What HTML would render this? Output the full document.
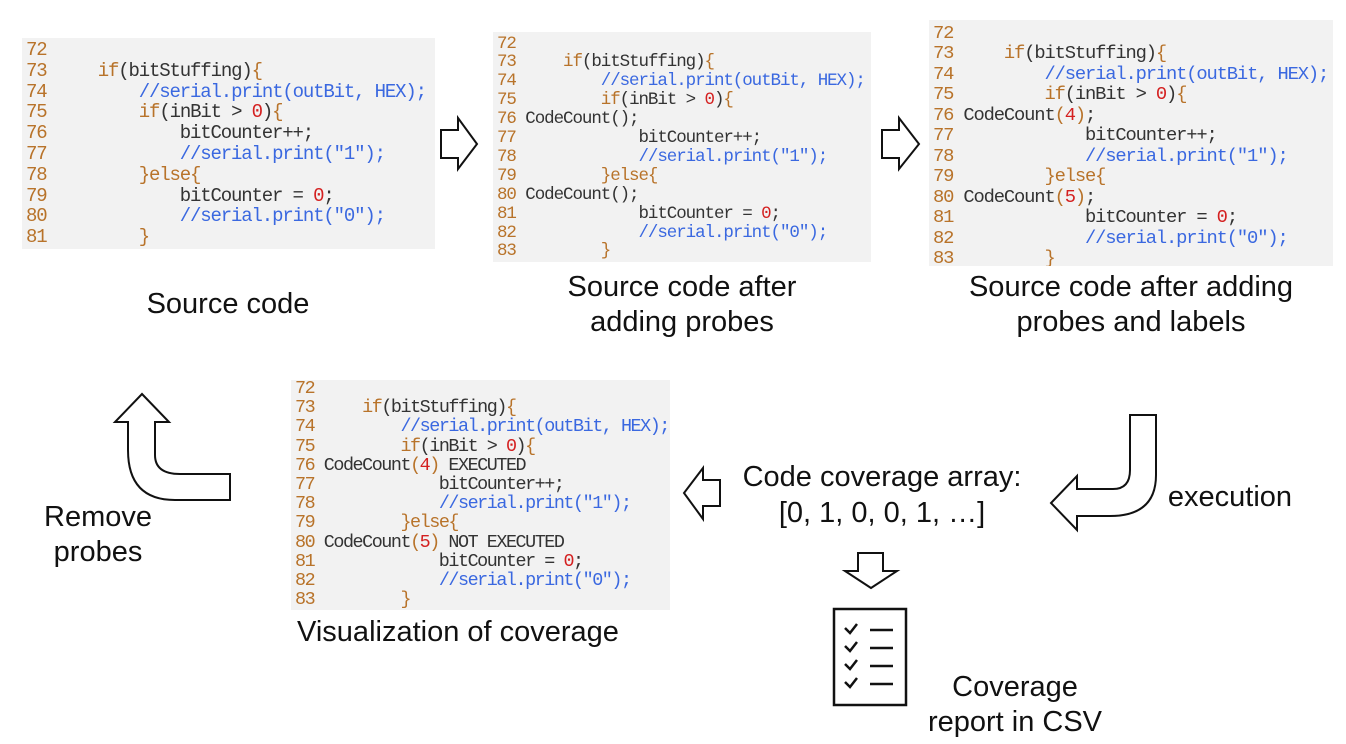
<!DOCTYPE html>
<html><head><meta charset="utf-8"><style>
html,body{margin:0;padding:0;background:#fff;width:1346px;height:744px;overflow:hidden;position:relative}
.cb{position:absolute;background:#f2f2f2;overflow:hidden}
.cb pre{margin:0;position:absolute;left:4px;font-family:"Liberation Mono",monospace;color:#333;white-space:pre}
.n{color:#b8732a}.k{color:#b8732a}.c{color:#3a68e0}.r{color:#d42020}
.t{position:absolute;font-family:"Liberation Sans",Arial,sans-serif;font-size:29px;color:#111;text-align:center;line-height:35px;white-space:nowrap}
svg{position:absolute;left:0;top:0}
</style></head><body>

<div class="cb" style="left:22px;top:38px;width:413px;height:211px">
<pre style="top:2px;font-size:19px;letter-spacing:-1.15px;line-height:20.8px"><span class="n">72</span>
<span class="n">73</span>     <span class="k">if</span>(bitStuffing)<span class="k">{</span>
<span class="n">74</span>         <span class="c">//serial.print(outBit, HEX);</span>
<span class="n">75</span>         <span class="k">if</span>(inBit &gt; <span class="r">0</span>)<span class="k">{</span>
<span class="n">76</span>             bitCounter++;
<span class="n">77</span>             <span class="c">//serial.print(″1″);</span>
<span class="n">78</span>         <span class="k">}else{</span>
<span class="n">79</span>             bitCounter = <span class="r">0</span>;
<span class="n">80</span>             <span class="c">//serial.print(″0″);</span>
<span class="n">81</span>         <span class="k">}</span></pre></div>

<div class="cb" style="left:493px;top:32px;width:378px;height:230px">
<pre style="top:2.5px;font-size:17.5px;letter-spacing:-1.07px;line-height:18.9px"><span class="n">72</span>
<span class="n">73</span>     <span class="k">if</span>(bitStuffing)<span class="k">{</span>
<span class="n">74</span>         <span class="c">//serial.print(outBit, HEX);</span>
<span class="n">75</span>         <span class="k">if</span>(inBit &gt; <span class="r">0</span>)<span class="k">{</span>
<span class="n">76</span> CodeCount();
<span class="n">77</span>             bitCounter++;
<span class="n">78</span>             <span class="c">//serial.print(″1″);</span>
<span class="n">79</span>         <span class="k">}else{</span>
<span class="n">80</span> CodeCount();
<span class="n">81</span>             bitCounter = <span class="r">0</span>;
<span class="n">82</span>             <span class="c">//serial.print(″0″);</span>
<span class="n">83</span>         <span class="k">}</span></pre></div>

<div class="cb" style="left:929px;top:20px;width:404px;height:246px">
<pre style="top:3px;font-size:18.8px;letter-spacing:-1.14px;line-height:20.45px"><span class="n">72</span>
<span class="n">73</span>     <span class="k">if</span>(bitStuffing)<span class="k">{</span>
<span class="n">74</span>         <span class="c">//serial.print(outBit, HEX);</span>
<span class="n">75</span>         <span class="k">if</span>(inBit &gt; <span class="r">0</span>)<span class="k">{</span>
<span class="n">76</span> CodeCount<span class="k">(</span><span class="r">4</span><span class="k">)</span>;
<span class="n">77</span>             bitCounter++;
<span class="n">78</span>             <span class="c">//serial.print(″1″);</span>
<span class="n">79</span>         <span class="k">}else{</span>
<span class="n">80</span> CodeCount<span class="k">(</span><span class="r">5</span><span class="k">)</span>;
<span class="n">81</span>             bitCounter = <span class="r">0</span>;
<span class="n">82</span>             <span class="c">//serial.print(″0″);</span>
<span class="n">83</span>         <span class="k">}</span></pre></div>

<div class="cb" style="left:291px;top:380px;width:379px;height:230px">
<pre style="top:-1px;font-size:18.4px;letter-spacing:-1.45px;line-height:19.2px"><span class="n">72</span>
<span class="n">73</span>     <span class="k">if</span>(bitStuffing)<span class="k">{</span>
<span class="n">74</span>         <span class="c">//serial.print(outBit, HEX);</span>
<span class="n">75</span>         <span class="k">if</span>(inBit &gt; <span class="r">0</span>)<span class="k">{</span>
<span class="n">76</span> CodeCount<span class="k">(</span><span class="r">4</span><span class="k">)</span> EXECUTED
<span class="n">77</span>             bitCounter++;
<span class="n">78</span>             <span class="c">//serial.print(″1″);</span>
<span class="n">79</span>         <span class="k">}else{</span>
<span class="n">80</span> CodeCount<span class="k">(</span><span class="r">5</span><span class="k">)</span> NOT EXECUTED
<span class="n">81</span>             bitCounter = <span class="r">0</span>;
<span class="n">82</span>             <span class="c">//serial.print(″0″);</span>
<span class="n">83</span>         <span class="k">}</span></pre></div>

<svg width="1346" height="744" viewBox="0 0 1346 744" fill="#fff" stroke="#111" stroke-width="2" stroke-linejoin="miter">
<polygon points="441,130 458,130 458,118 477,144 458,169 458,158 441,158"/>
<polygon points="882,130 899,130 899,118 919,144 899,169 899,158 882,158"/>
<polygon points="720,480 703,480 703,468 684,493 703,519 703,506 720,506"/>
<polygon points="858,553 883,553 883,571 897,571 871,588 845,571 858,571"/>
<path d="M142,394 L169,422 L155,422 L155,455 Q155,474 180,474 L230,474 L230,500 L175,500 Q128,500 128,450 L128,422 L115,422 Z"/>
<path d="M1130,415 L1156,415 L1156,475 Q1156,516 1110,516 L1077,516 L1077,530 L1051,503 L1077,476 L1077,489 L1113,489 Q1130,489 1130,470 Z"/>
<rect x="834" y="609" width="72" height="96" stroke-width="2.5"/>
<g fill="none" stroke-width="2.5">
<polyline points="845,628 850,633 857,624"/><line x1="870" y1="630" x2="893" y2="630"/>
<polyline points="845,646 850,651 857,642"/><line x1="870" y1="648" x2="893" y2="648"/>
<polyline points="845,664 850,669 857,660"/><line x1="870" y1="666" x2="893" y2="666"/>
<polyline points="845,682 850,687 857,678"/><line x1="870" y1="684" x2="893" y2="684"/>
</g>
</svg>

<div class="t" style="left:128px;top:287px;width:200px">Source code</div>
<div class="t" style="left:532px;top:270px;width:300px">Source code after<br>adding probes</div>
<div class="t" style="left:941px;top:270px;width:380px">Source code after adding<br>probes and labels</div>
<div class="t" style="left:8px;top:500px;width:180px">Remove<br>probes</div>
<div class="t" style="left:238px;top:615px;width:440px">Visualization of coverage</div>
<div class="t" style="left:702px;top:459px;width:360px;line-height:36px">Code coverage array:<br>[0, 1, 0, 0, 1, …]</div>
<div class="t" style="left:1155px;top:480px;width:150px">execution</div>
<div class="t" style="left:895px;top:670px;width:240px">Coverage<br>report in CSV</div>
</body></html>
